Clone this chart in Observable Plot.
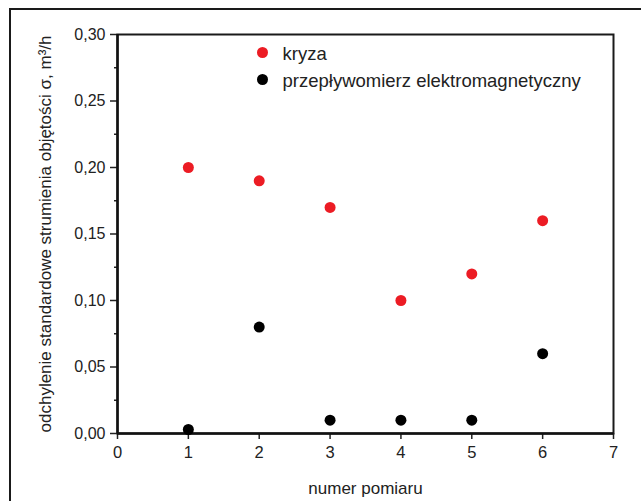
<!DOCTYPE html>
<html>
<head>
<meta charset="utf-8">
<script src="https://cdn.jsdelivr.net/npm/d3@7"></script>
<script src="https://cdn.jsdelivr.net/npm/@observablehq/plot@0.6"></script>
<style>
  html, body { margin: 0; padding: 0; background: #fff; }
  #wrap { position: relative; width: 641px; height: 501px; overflow: hidden; }
  #border { position: absolute; left: 9px; top: 8px; width: 700px; height: 600px; border: 2px solid #1a1a1a; box-sizing: border-box; }
  #chart { position: absolute; left: 0; top: 0; }
  svg { font-family: "Liberation Sans", Arial, sans-serif; }
</style>
</head>
<body>
<div id="wrap"><div id="border"></div><div id="chart"></div></div>
<script>
const pomiar = [1, 2, 3, 4, 5, 6];
const kryza = [0.20, 0.19, 0.17, 0.10, 0.12, 0.16];
const przeplywomierz = [0.003, 0.08, 0.01, 0.01, 0.01, 0.06];
const seriesNames = ["kryza", "przepływomierz elektromagnetyczny"];
const seriesColors = ["#ec1c24", "#000000"];
const xTicks = [0, 1, 2, 3, 4, 5, 6, 7];
const yMajor = [0, 0.05, 0.10, 0.15, 0.20, 0.25, 0.30];
const yMinor = [0.025, 0.075, 0.125, 0.175, 0.225, 0.275];
const xTitle = "numer pomiaru";
const yTitle = "odchylenie standardowe strumienia objętości σ, m³/h";

const data = [];
pomiar.forEach((p, i) => {
  data.push({x: p, y: kryza[i], s: seriesNames[0]});
  data.push({x: p, y: przeplywomierz[i], s: seriesNames[1]});
});
const fmt = d => d3.format(".2f")(d).replace(".", ",");

const legendMarks = seriesNames.flatMap((s, i) => [
  Plot.dot([s], {frameAnchor: "top-left", dx: 145, dy: 18 + 27 * i, fill: d => d, r: 5.5}),
  Plot.text([s], {frameAnchor: "top-left", dx: 165, dy: 20 + 27 * i, textAnchor: "start", lineAnchor: "middle", fontSize: 18.5, fill: "#222"})
]);

const plot = Plot.plot({
  width: 641,
  height: 501,
  marginLeft: 117,
  marginRight: 28,
  marginTop: 34,
  marginBottom: 68,
  x: {domain: [0, 7]},
  y: {domain: [0, 0.30]},
  color: {domain: seriesNames, range: seriesColors},
  style: {fontFamily: "Liberation Sans, Arial, sans-serif", color: "#222"},
  marks: [
    Plot.axisX({ticks: xTicks, tickSize: 6, tickPadding: 7, fontSize: 16.5, label: null, strokeWidth: 1.5, tickFormat: d => String(d)}),
    Plot.axisY({ticks: yMajor, tickSize: 7, tickPadding: 5, fontSize: 16, label: null, strokeWidth: 1.5, tickFormat: fmt}),
    Plot.axisY({ticks: yMinor, tickSize: 3, label: null, strokeWidth: 1.5, text: null}),
    Plot.frame({stroke: "#1a1a1a", strokeWidth: 2}),
    Plot.ruleX([0], {stroke: "#111", strokeWidth: 2.5}),
    Plot.ruleY([0], {stroke: "#111", strokeWidth: 2.5}),
    Plot.dot(data, {x: "x", y: "y", fill: "s", r: 5.5}),
    ...legendMarks,
    Plot.text([xTitle], {frameAnchor: "bottom", dy: 55, lineAnchor: "middle", fontSize: 17, fill: "#222"}),
    Plot.text([yTitle], {frameAnchor: "left", rotate: -90, dx: -72, textAnchor: "middle", lineAnchor: "middle", fontSize: 17, fill: "#222"})
  ]
});
document.getElementById("chart").appendChild(plot);
</script>
</body>
</html>
